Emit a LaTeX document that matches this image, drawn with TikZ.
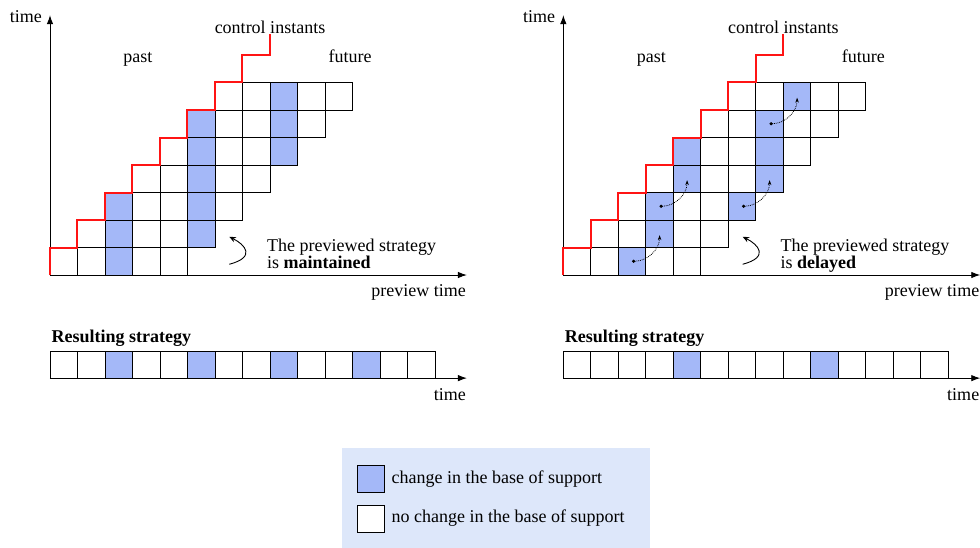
\documentclass[tikz,border=0pt]{standalone}
\usepackage{fontspec}
\setmainfont{Liberation Serif}
\usepackage{tikz}
\usetikzlibrary{arrows.meta,positioning}
\definecolor{chg}{HTML}{A4B8F8}
\definecolor{legbg}{HTML}{DDE7FA}
\definecolor{stairred}{HTML}{FF1414}

\newcommand{\previewpanel}[5]{%
  \begin{scope}[shift={(#2,0)}]
    \coordinate (#1O) at (0,0);
    \coordinate (#1Y) at (0,9.45);
    \coordinate (#1X) at (15.16,0);
    \coordinate (#1S) at (0,-3.75);
    \coordinate (#1T) at (15.16,-3.75);
    \foreach \ry in {0,...,6}
      \foreach \cx in {0,...,4}
        \draw[cell] (\cx+\ry,\ry) rectangle +(1,1);
    \foreach \cx/\ry in {#3}
      \draw[cell,fill=chg] (\cx,\ry) rectangle +(1,1);
    \draw[axis] (#1O) -- (#1Y);
    \draw[axis] (#1O) -- (#1X);
    \node[lbl,anchor=base east] (#1time) at (-0.29,9.19) {time};
    \node[lbl,anchor=base east] (#1prev) at (15.13,-0.79) {preview time};
    \node[lbl,anchor=base] (#1past) at (3.2,7.71) {past};
    \node[lbl,anchor=base] (#1fut) at (10.91,7.71) {future};
    \node[lbl,anchor=base] (#1ctrl) at (8,8.78) {control instants};
    \draw[stair] (#1O) \foreach \i in {0,...,7} {-- (\i,\i+1) -- (\i+1,\i+1)} -- (#1ctrl.south);
    \node[lbl,align=left,anchor=north west] (#1note) at (7.89,1.33) {The previewed strategy\\is \textbf{#4}};
    \draw[turn] (6.52,0.39) .. controls (7.5,0.65) and (7.1,1.1) .. (6.52,1.39);
    \node[lbl,anchor=base west] (#1res) at (0.05,-2.46) {\bfseries Resulting strategy};
    \foreach \cx in {0,...,13}
      \draw[cell] (\cx,-3.75) rectangle +(1,0.97);
    \foreach \cx in {#5}
      \draw[cell,fill=chg] (\cx,-3.75) rectangle +(1,0.97);
    \draw[axis] (#1S) -- (#1T);
    \node[lbl,anchor=base east] (#1rtime) at (15.13,-4.55) {time};
  \end{scope}}

\begin{document}
\begin{tikzpicture}[x=27.5pt,y=27.5pt,
  lbl/.style={inner sep=0pt,font=\fontsize{18}{17.5}\selectfont},
  cell/.style={draw=black,line width=0.8pt},
  axis/.style={-{Latex[length=9pt,width=6.5pt]},line width=0.9pt},
  stair/.style={draw=stairred,line width=2pt},
  turn/.style={-{Stealth[length=6.5pt,width=5.5pt]},line width=0.9pt},
  delay/.style={{Circle[length=3pt]}-{Stealth[length=5pt,width=3.5pt]},densely dotted,line width=0.8pt},
  key/.style={draw=black,line width=1pt,minimum size=27pt,inner sep=0pt}]
  \useasboundingbox (-1.818,-9.891) rectangle (33.818,10);
  \previewpanel{L}{0}{2/0,2/1,2/2,5/1,5/2,5/3,5/4,5/5,8/4,8/5,8/6}{maintained}{2,5,8,11}
  \previewpanel{R}{18.667}{2/0,3/1,3/2,6/2,4/3,7/3,4/4,7/4,7/5,8/6}{delayed}{4,9}
  \begin{scope}[shift={(18.667,0)}]
    \foreach \cx/\ry in {2/0,3/2,6/2,7/5}
      \draw[delay] (\cx+.5,\ry+.5) to[out=0,in=-90] (\cx+1.5,\ry+1.45);
  \end{scope}
  \fill[legbg] (10.6,-6.29) rectangle (21.82,-9.95);
  \node[key,fill=chg] (kchg) at (11.69,-7.42) {};
  \node[key,fill=white] (kno) at (11.69,-8.855) {};
  \node[lbl,right=6pt of kchg] (tchg) {change in the base of support};
  \node[lbl,right=6pt of kno] (tno) {no change in the base of support};
\end{tikzpicture}
\end{document}
